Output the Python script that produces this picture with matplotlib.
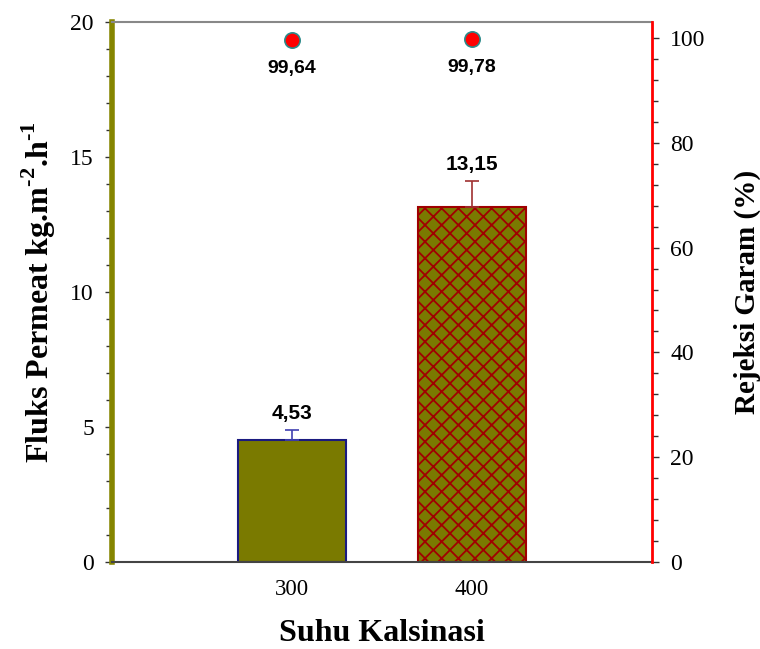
import matplotlib.pyplot as plt
from matplotlib.ticker import MultipleLocator

# data
suhu = [300, 400]
fluks = [4.53, 13.15]
fluks_err = [0.35, 0.96]
rejeksi = [99.64, 99.78]
label_fluks = ["4,53", "13,15"]
label_rejeksi = ["99,64", "99,78"]

olive = "#7a7a00"

plt.rcParams["hatch.linewidth"] = 1.3
plt.rcParams["hatch.color"] = "#a00000"
plt.rcParams["mathtext.fontset"] = "custom"
plt.rcParams["mathtext.rm"] = "Liberation Serif:bold"
plt.rcParams["mathtext.bf"] = "Liberation Serif:bold"

fig = plt.figure(figsize=(7.6, 6.49), dpi=100)
ax = fig.add_axes([112 / 760, 1 - 562 / 649, 540 / 760, 540 / 649])

# bars
ax.bar(suhu[0], fluks[0], width=60, color=olive, edgecolor="#1a1a80",
       linewidth=1.5, zorder=2)
ax.bar(suhu[1], fluks[1], width=60, color=olive, edgecolor="#a00000",
       linewidth=1.5, hatch="xx", zorder=2)
ax.errorbar(suhu[0], fluks[0], yerr=[[0], [fluks_err[0]]], fmt="none",
            ecolor="#4040b0", elinewidth=1.2, capsize=5, capthick=1.2, zorder=3)
ax.errorbar(suhu[1], fluks[1], yerr=[[0], [fluks_err[1]]], fmt="none",
            ecolor="#a03030", elinewidth=1.2, capsize=5, capthick=1.2, zorder=3)

for x, y, e, t in zip(suhu, fluks, fluks_err, label_fluks):
    ax.text(x, y + e + 0.25, t, ha="center", va="bottom",
            family="Liberation Sans", fontweight="bold", fontsize=15)

ax.set_xlim(200, 500)
ax.set_ylim(0, 20)
ax.set_xticks(suhu)
ax.yaxis.set_major_locator(MultipleLocator(5))
ax.yaxis.set_minor_locator(MultipleLocator(1))
ax.tick_params(axis="y", which="both", direction="out", length=5, width=1,
               color="#333333", labelsize=17, pad=8)
ax.tick_params(axis="y", which="minor", length=4)
ax.tick_params(axis="x", direction="in", length=4, color="#555555",
               labelsize=16.5, pad=12)
for lab in ax.get_xticklabels() + ax.get_yticklabels():
    lab.set_family("Liberation Serif")

ax.spines["left"].set_color("#858500")
ax.spines["left"].set_linewidth(4)
ax.spines["top"].set_color("#888888")
ax.spines["top"].set_linewidth(1.5)
ax.spines["bottom"].set_color("#444444")
ax.spines["bottom"].set_linewidth(1.5)
ax.spines["right"].set_visible(False)

ax.set_ylabel("Fluks Permeat kg.m$^{\\text{-2}}$.h$^{\\text{-1}}$",
              family="Liberation Serif", fontweight="bold", fontsize=23,
              labelpad=9)
ax.set_xlabel("Suhu Kalsinasi", family="Liberation Serif", fontweight="bold",
              fontsize=23, labelpad=14)

# second axis
ax2 = ax.twinx()
ax2.set_ylim(0, 103.05)
ax2.plot(suhu, rejeksi, linestyle="none", marker="o", markersize=11,
         markerfacecolor="red", markeredgecolor="#2a8a8a", markeredgewidth=1.2,
         zorder=4)
for x, y, t in zip(suhu, rejeksi, label_rejeksi):
    ax2.text(x, y - 3.8, t, ha="center", va="top",
             family="Liberation Sans", fontweight="bold", fontsize=14)

ax2.yaxis.set_major_locator(MultipleLocator(20))
ax2.yaxis.set_minor_locator(MultipleLocator(4))
ax2.tick_params(axis="y", which="both", direction="out", length=5, width=1,
                color="#333333", labelsize=17, pad=8)
ax2.tick_params(axis="y", which="minor", length=4)
for lab in ax2.get_yticklabels():
    lab.set_family("Liberation Serif")
ax2.spines["right"].set_color("red")
ax2.spines["right"].set_linewidth(2)
for s in ["left", "top", "bottom"]:
    ax2.spines[s].set_visible(False)
ax2.set_ylabel("Rejeksi Garam (%)", family="Liberation Serif",
               fontweight="bold", fontsize=21, labelpad=20)

fig.savefig("out.png", dpi=100)
